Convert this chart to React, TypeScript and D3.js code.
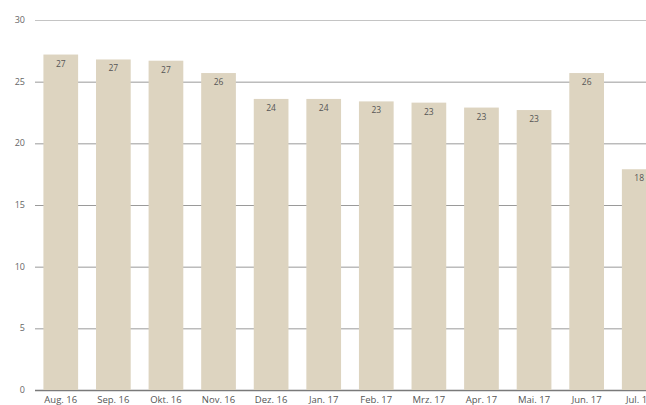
import React, { useEffect, useRef } from 'react';
import * as d3 from 'd3';

const months = [
  'Aug. 16', 'Sep. 16', 'Okt. 16', 'Nov. 16', 'Dez. 16', 'Jan. 17',
  'Feb. 17', 'Mrz. 17', 'Apr. 17', 'Mai. 17', 'Jun. 17', 'Jul. 17',
];
const values = [27.2, 26.8, 26.7, 25.7, 23.6, 23.6, 23.4, 23.3, 22.9, 22.7, 25.7, 17.9];
const yTicks = [0, 5, 10, 15, 20, 25, 30];

const App: React.FC = () => {
  const svgRef = useRef<SVGSVGElement>(null);

  useEffect(() => {
    if (!svgRef.current) return;
    const svg = d3.select(svgRef.current);
    svg.selectAll('*').remove();

    const left = 35;
    const step = 52.5;
    const x = d3
      .scaleBand()
      .domain(months)
      .range([left, left + step * months.length])
      .paddingInner(0.34)
      .paddingOuter(0.16);
    const y = d3.scaleLinear().domain([0, 30]).range([390, 20]);

    // グリッド線
    svg
      .append('g')
      .selectAll('line')
      .data(yTicks)
      .enter()
      .append('line')
      .attr('x1', left)
      .attr('x2', 646)
      .attr('y1', (d) => y(d) + 0.5)
      .attr('y2', (d) => y(d) + 0.5)
      .attr('stroke', (d) => (d === 0 ? '#7a7a7a' : d === 30 ? '#c4c4c4' : '#9a9a9a'))
      .attr('stroke-width', (d) => (d === 0 ? 1.5 : 1));

    // Y軸ラベル
    svg
      .append('g')
      .selectAll('text')
      .data(yTicks)
      .enter()
      .append('text')
      .attr('x', 25)
      .attr('y', (d) => y(d))
      .attr('dy', '0.35em')
      .attr('text-anchor', 'end')
      .style('font-size', '9px')
      .style('fill', '#666')
      .text((d) => d);

    // 棒
    svg
      .append('g')
      .selectAll('rect')
      .data(values)
      .enter()
      .append('rect')
      .attr('x', (_, i) => x(months[i]) || 0)
      .attr('y', (d) => y(d))
      .attr('width', x.bandwidth())
      .attr('height', (d) => y(0) - y(d))
      .attr('fill', '#ddd4c0');

    // 値ラベル
    svg
      .append('g')
      .selectAll('text')
      .data(values)
      .enter()
      .append('text')
      .attr('x', (_, i) => (x(months[i]) || 0) + x.bandwidth() / 2)
      .attr('y', (d) => y(d) + 12)
      .attr('text-anchor', 'middle')
      .style('font-size', '8.5px')
      .style('fill', '#555')
      .text((d) => Math.round(d));

    // X軸ラベル
    svg
      .append('g')
      .selectAll('text')
      .data(months)
      .enter()
      .append('text')
      .attr('x', (d) => (x(d) || 0) + x.bandwidth() / 2)
      .attr('y', 403)
      .attr('text-anchor', 'middle')
      .style('font-size', '9.5px')
      .style('fill', '#555')
      .text((d) => d);
  }, []);

  return (
    <svg
      ref={svgRef}
      width={646}
      height={405}
      style={{ position: 'fixed', left: 0, top: 0, fontFamily: "'Open Sans', sans-serif", background: '#fff' }}
    />
  );
};

export default App;
